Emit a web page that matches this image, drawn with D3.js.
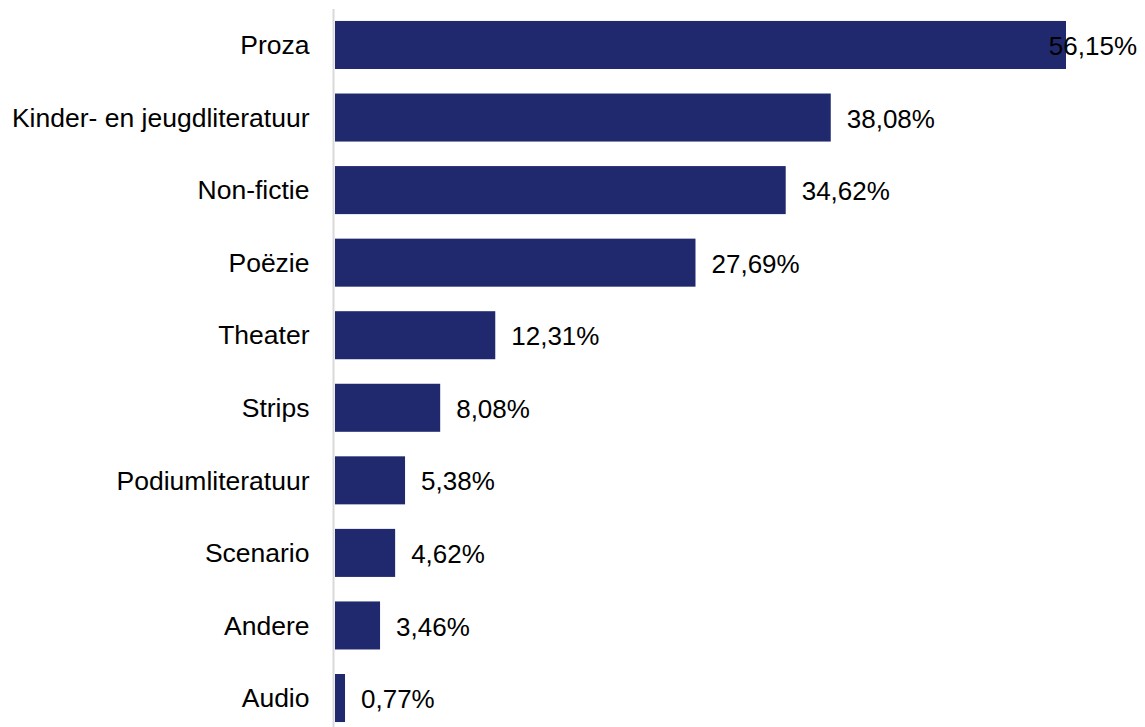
<!DOCTYPE html>
<html><head><meta charset="utf-8">
<script src="https://cdn.jsdelivr.net/npm/d3@7"></script>
<style>body{margin:0;background:#fff}svg{display:block}text{font-family:"Liberation Sans",Arial,sans-serif}</style>
</head><body>
<svg id="c" width="1145" height="727"></svg>
<script>
const categories = ["Proza","Kinder- en jeugdliteratuur","Non-fictie","Poëzie","Theater","Strips","Podiumliteratuur","Scenario","Andere","Audio"];
const values = [56.15,38.08,34.62,27.69,12.31,8.08,5.38,4.62,3.46,0.77];
const valueLabels = ["56,15%","38,08%","34,62%","27,69%","12,31%","8,08%","5,38%","4,62%","3,46%","0,77%"];

const svg = d3.select("#c");
const x0 = 335, right = 1137;
const x = d3.scaleLinear().domain([0, 56.15]).range([x0, 1066]);
const y = d3.scaleBand().domain(categories).range([8.7, 734.3]).paddingInner(0.338).paddingOuter(0.169);

svg.append("line").attr("x1",333.5).attr("x2",333.5).attr("y1",9).attr("y2",727)
  .attr("stroke","#d9d9d9").attr("stroke-width",2);

svg.selectAll("rect.bar").data(categories).join("rect").attr("class","bar")
  .attr("x", x0).attr("y", d => y(d)).attr("height", y.bandwidth())
  .attr("width", (d,i) => x(values[i]) - x0).attr("fill","#20296d");

svg.selectAll("text.cat").data(categories).join("text").attr("class","cat")
  .attr("x", 309.5).attr("y", d => y(d) + y.bandwidth()/2).attr("dy","0.35em")
  .attr("text-anchor","end").attr("font-size",26.5).attr("fill","#000").text(d => d);

const vl = svg.selectAll("text.val").data(categories).join("text").attr("class","val")
  .attr("y", d => y(d) + y.bandwidth()/2 + 1).attr("dy","0.35em")
  .attr("font-size",26).attr("fill","#000").text((d,i) => valueLabels[i]);
vl.each(function(d,i){
  const w = this.getComputedTextLength();
  let px = x(values[i]) + 16;
  if (px + w > right) px = right - w;
  d3.select(this).attr("x", px);
});
</script>
</body></html>
